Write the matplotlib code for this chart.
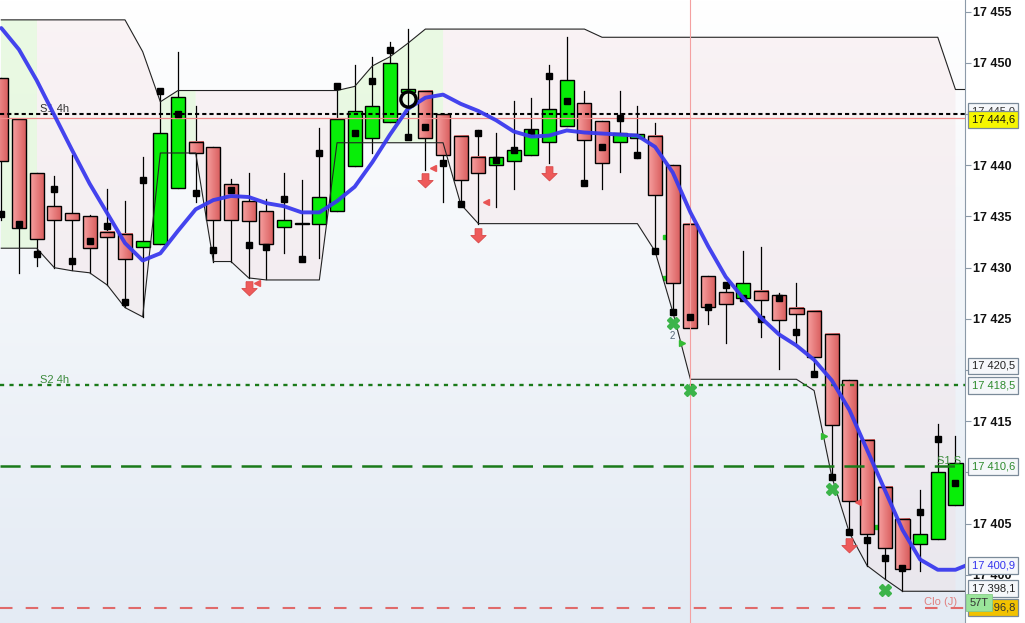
import numpy as np
import matplotlib
matplotlib.use('Agg')
import matplotlib.pyplot as plt
from matplotlib.colors import LinearSegmentedColormap
import matplotlib.ticker as tkr

plt.rcParams['font.family'] = ['Liberation Sans', 'DejaVu Sans']
plt.rcParams['lines.scale_dashes'] = False

# --- candles, oldest first ---
opens = [17448.5, 17444.5, 17439.2, 17436.0, 17435.3, 17435.0, 17433.5, 17433.3, 17432.0, 17432.3,
         17437.8, 17442.3, 17441.8, 17438.2, 17436.5, 17435.5, 17434.0, 17434.3, 17434.3, 17435.5,
         17439.9, 17442.7, 17444.2, 17447.2, 17447.3, 17445.0, 17442.9, 17440.8, 17440.0, 17440.4,
         17441.0, 17442.3, 17443.8, 17446.1, 17444.3, 17442.3, 17442.7, 17442.9, 17440.0, 17434.3,
         17429.2, 17427.6, 17427.0, 17427.7, 17427.3, 17426.1, 17425.8, 17423.5, 17419.0, 17413.2,
         17408.6, 17405.5, 17403.0, 17403.5, 17406.8]
highs = [17448.5, 17444.5, 17439.2, 17439.0, 17441.0, 17435.1, 17437.7, 17436.5, 17440.8, 17447.4,
         17451.1, 17445.8, 17441.8, 17438.7, 17439.2, 17436.7, 17439.2, 17438.6, 17443.6, 17447.7,
         17449.8, 17450.6, 17452.0, 17453.3, 17447.3, 17445.0, 17442.9, 17443.4, 17443.2, 17446.3,
         17446.6, 17449.8, 17452.5, 17447.3, 17444.3, 17447.3, 17445.8, 17444.1, 17440.0, 17434.3,
         17429.2, 17428.5, 17431.6, 17432.0, 17427.5, 17428.5, 17425.8, 17423.5, 17419.0, 17413.2,
         17408.6, 17405.5, 17408.3, 17414.7, 17413.6]
lows = [17434.7, 17429.5, 17430.2, 17430.0, 17429.8, 17429.5, 17428.3, 17426.2, 17425.2, 17432.3,
        17437.8, 17436.4, 17430.6, 17430.6, 17429.0, 17428.9, 17431.4, 17430.7, 17430.9, 17435.5,
        17439.9, 17441.2, 17444.2, 17442.8, 17439.5, 17436.4, 17436.2, 17434.3, 17435.9, 17437.7,
        17441.0, 17440.2, 17443.8, 17438.3, 17437.7, 17439.3, 17440.7, 17431.6, 17425.7, 17424.1,
        17424.5, 17422.6, 17427.0, 17423.2, 17420.1, 17422.6, 17419.6, 17409.6, 17404.2, 17400.9,
        17399.6, 17398.4, 17400.4, 17403.5, 17406.8]
closes = [17440.4, 17433.9, 17432.8, 17434.7, 17434.7, 17431.9, 17433.0, 17430.8, 17432.6, 17443.2,
          17446.7, 17441.2, 17434.7, 17434.7, 17434.6, 17432.3, 17434.7, 17434.3, 17436.9, 17444.5,
          17445.3, 17445.8, 17450.0, 17447.4, 17442.7, 17441.0, 17438.6, 17439.2, 17440.8, 17441.5,
          17443.5, 17445.5, 17448.3, 17442.5, 17440.2, 17443.2, 17443.1, 17437.1, 17428.5, 17424.1,
          17426.2, 17426.5, 17428.5, 17426.8, 17424.9, 17425.5, 17421.3, 17414.6, 17407.2, 17404.0,
          17402.6, 17400.6, 17404.0, 17410.0, 17410.9]
# black square markers (one per bar)
dots = [17435.2, 17434.3, 17431.3, 17437.7, 17430.7, 17432.6, 17434.1, 17426.6, 17438.6, 17447.3,
        17445.0, 17437.3, 17431.7, 17437.6, 17432.2, 17432.0, 17436.7, 17430.8, 17441.2, 17447.7,
        17443.2, 17448.2, 17451.3, 17442.8, 17443.7, 17440.2, 17436.2, 17443.2, 17440.5, 17441.5,
        17443.2, 17448.7, 17446.3, 17438.3, 17441.8, 17444.6, 17441.0, 17431.6, 17425.7, 17425.2,
        17426.2, 17428.3, 17427.0, 17425.0, 17427.0, 17423.7, 17419.6, 17409.6, 17404.2, 17403.4,
        17401.6, 17400.7, 17406.1, 17413.3, 17409.0]
# blue average (last value is one bar ahead)
ma = [17453.4, 17451.3, 17448.3, 17444.9, 17441.5, 17438.2, 17435.3, 17432.4, 17430.7, 17431.4,
      17433.6, 17435.7, 17436.6, 17437.0, 17436.9, 17436.3, 17436.0, 17435.4, 17435.4, 17436.5,
      17437.9, 17440.3, 17443.0, 17445.5, 17446.6, 17446.9, 17446.0, 17445.3, 17444.4, 17443.3,
      17442.8, 17442.9, 17443.4, 17443.2, 17443.1, 17443.0, 17442.9, 17441.8, 17439.3, 17435.4,
      17432.1, 17429.1, 17427.0, 17425.1, 17423.5, 17422.4, 17421.0, 17419.0, 17416.1, 17412.2,
      17408.3, 17404.4, 17401.5, 17400.5, 17400.5, 17401.2]
# channel envelope
upper = [17454.2, 17454.2, 17454.2, 17454.2, 17454.2, 17454.2, 17454.2, 17454.2, 17451.1, 17446.2,
         17447.3, 17447.3, 17447.3, 17447.3, 17447.3, 17447.3, 17447.3, 17447.3, 17447.3, 17447.3,
         17447.7, 17449.7, 17450.6, 17451.9, 17453.3, 17453.3, 17453.3, 17453.3, 17453.3, 17453.3,
         17453.3, 17453.3, 17453.3, 17453.3, 17452.5, 17452.5, 17452.5, 17452.5, 17452.5, 17452.5,
         17452.5, 17452.5, 17452.5, 17452.5, 17452.5, 17452.5, 17452.5, 17452.5, 17452.5, 17452.5,
         17452.5, 17452.5, 17452.5, 17452.5, 17447.4]
lower = [17431.9, 17431.9, 17431.9, 17430.0, 17429.7, 17429.5, 17428.3, 17426.1, 17425.2, 17441.2,
         17441.2, 17441.2, 17430.6, 17430.6, 17429.0, 17428.8, 17428.8, 17428.8, 17428.8, 17442.2,
         17442.2, 17442.2, 17442.2, 17442.2, 17442.2, 17442.2, 17436.2, 17434.3, 17434.3, 17434.3,
         17434.3, 17434.3, 17434.3, 17434.3, 17434.3, 17434.3, 17434.3, 17431.6, 17425.7, 17419.1,
         17419.1, 17419.1, 17419.1, 17419.1, 17419.1, 17419.1, 17418.0, 17409.6, 17404.1, 17400.9,
         17399.6, 17398.4, 17398.4, 17398.4, 17398.4]
green_spans = [(0, 2), (9, 11), (19, 25)]

# signals
arrow_x = [14, 24, 27, 31, 48]
arrow_y = [17428.0, 17438.6, 17433.2, 17439.2, 17402.9]
red_tri_x = [14.47, 24.43, 27.43, 48.48]
red_tri_y = [17428.5, 17439.7, 17436.4, 17407.1]
green_tri_x = [38.5, 46.56]
green_tri_y = [17422.6, 17413.6]
green_sq_x = [37.55, 37.55, 49.55]
green_sq_y = [17433.0, 17429.0, 17404.7]
cross_x = [38, 39, 47, 50]
cross_y = [17424.6, 17418.1, 17408.4, 17398.5]
ring_x, ring_y = 23, 17446.5
vline_x = 39

# levels
lvl_s1_4h = 17445.0
lvl_red = 17444.6
lvl_s2_4h = 17418.5
lvl_s1_s = 17410.6
lvl_clo = 17396.8

tick_values = [17400, 17405, 17410, 17415, 17420, 17425, 17430, 17435, 17440, 17445, 17450, 17455]
covered_ticks = [17410, 17420, 17445]
box_texts = ['17 445,0', '17 444,6', '17 420,5', '17 418,5', '17 410,6', '17 400,9', '17 398,1', '17 396,8']
box_levels = [17445.3, 17444.5, 17420.4, 17418.5, 17410.6, 17400.9, 17398.7, 17396.8]
box_fg = ['#333333', '#111111', '#222222', '#2e8b2e', '#2e8b2e', '#3333ee', '#222222', '#333333']
box_bg = ['#f5f7fa', '#f6f600', '#f5f7fa', '#f5f7fa', '#f5f7fa', '#f5f7fa', '#f5f7fa', '#f2c200']

x = np.arange(len(opens))
XLIM = (-0.074, 54.54)
YLIM = (17395.30, 17456.14)

fig = plt.figure(figsize=(10.25, 6.23), dpi=100)
ax = fig.add_axes([0, 0, 965 / 1025, 1])

# background gradient, white at the top
bg = LinearSegmentedColormap.from_list('bg', ['#ffffff', '#e4ebf4'])
ax.imshow(np.linspace(0, 1, 256).reshape(-1, 1), cmap=bg, aspect='auto', origin='upper',
          extent=[XLIM[0], XLIM[1], YLIM[0], YLIM[1]], zorder=0)

# channel fill
up = np.array(upper)
lo = np.array(lower)
is_green = np.zeros(len(x), bool)
for a, b in green_spans:
    is_green[a:b + 1] = True
is_pink = np.ones(len(x), bool)
for a, b in green_spans:
    is_pink[a + 1:b] = False
ax.fill_between(x, lo, up, where=is_pink, color='#f3dfe2', alpha=0.35, lw=0, zorder=1)
ax.fill_between(x, lo, up, where=is_green, color='#e3f8da', alpha=0.75, lw=0, zorder=1)

# candles
redmap = LinearSegmentedColormap.from_list('rd', ['#f7a0a0', '#d85c5c'])
hgrad = np.linspace(0, 1, 32).reshape(1, -1)
w = 0.8
for i in range(len(x)):
    ax.plot([x[i], x[i]], [lows[i], highs[i]], color='black', lw=0.9, zorder=2)
    o, c = opens[i], closes[i]
    bot, top = min(o, c), max(o, c)
    h = max(top - bot, 0.05)
    if c < o:
        ax.imshow(hgrad, cmap=redmap, aspect='auto', zorder=3,
                  extent=[x[i] - w / 2, x[i] + w / 2, bot, bot + h])
        ax.bar(x[i], h, w, bot, facecolor='none', edgecolor='black', lw=1.0, zorder=3.1)
    else:
        ax.bar(x[i], h, w, bot, facecolor='#08ee08', edgecolor='black', lw=1.0, zorder=3.1)

ax.plot(green_sq_x, green_sq_y, 's', color='#22cc22', ms=3.5, zorder=1.5)

# envelope lines
xe = np.append(x, x[-1] + 1)
ax.plot(xe, np.append(up, up[-1]), color='#222222', lw=0.8, zorder=4)
ax.plot(xe, np.append(lo, lo[-1]), color='#222222', lw=0.8, zorder=4)

# horizontal levels
ax.axhline(lvl_red, color='#f28a8a', lw=0.9, zorder=4)
ax.axhline(lvl_s1_4h, color='black', lw=1.5, dashes=(3.0, 2.2), zorder=4)
ax.axhline(lvl_s2_4h, color='#1a7a1a', lw=1.7, dashes=(3.0, 3.8), zorder=4)
ax.axhline(lvl_s1_s, color='#1a7a1a', lw=1.8, dashes=(14.5, 7.2), zorder=4)
ax.axhline(lvl_clo, color='#e06a6a', lw=1.5, dashes=(9.0, 9.5), zorder=4)
ax.axvline(vline_x, color='#f4a0a0', lw=0.8, zorder=4)

ax.text(2.2, lvl_s1_4h + 0.25, 'S1 4h', fontsize=8, color='#333333', zorder=5)
ax.text(2.2, lvl_s2_4h + 0.25, 'S2 4h', fontsize=8, color='#3a8a3a', zorder=5)
ax.text(52.95, lvl_s1_s + 0.25, 'S1 S', fontsize=8, color='#3a8a3a', zorder=5)
ax.text(52.2, lvl_clo + 0.3, 'Clo (J)', fontsize=8, color='#e08080', zorder=5)

# dots, average, signals
ax.plot(x, dots, 's', color='black', ms=4.3, zorder=5)
ax.plot(np.arange(len(ma)), ma, color='#3a3aee', lw=2.8, alpha=0.95,
        solid_capstyle='round', zorder=6)

arrow = [(-0.28, 0.55), (0.28, 0.55), (0.28, 0.0), (0.62, 0.0), (0.0, -0.6), (-0.62, 0.0), (-0.28, 0.0), (-0.28, 0.55)]
ax.plot(arrow_x, arrow_y, linestyle='none', marker=arrow, ms=11, mfc='#ee5a5a',
        mec='#d84848', mew=0.6, zorder=7)
ax.plot(red_tri_x, red_tri_y, '<', color='#e85555', ms=5, zorder=7)
ax.plot(green_tri_x, green_tri_y, '>', color='#33bb33', ms=5, zorder=7)
ax.plot(cross_x, cross_y, 'X', color='#3cb44a', ms=9, mec='#3cb44a', zorder=7)
ax.text(cross_x[0], cross_y[0] - 0.8, '2', fontsize=7, color='#556677', ha='center', va='top', zorder=7)
ax.plot(ring_x, ring_y, 'o', mfc='none', mec='black', mew=2.4, ms=11, zorder=7)

# axis
ax.set_xlim(*XLIM)
ax.set_ylim(*YLIM)
ax.set_xticks([])
ax.yaxis.tick_right()
ax.set_yticks(tick_values)
ax.yaxis.set_major_formatter(tkr.FuncFormatter(
    lambda v, p: '' if int(v) in covered_ticks else f"{int(v) // 1000} {int(v) % 1000:03d}"))
ax.tick_params(axis='y', direction='out', length=4, width=0.8, color='#8c9aa8',
               pad=2, labelsize=8, labelcolor='#111111')
for t in ax.yaxis.get_major_ticks():
    if int(round(t.get_loc())) % 50 == 0:
        t.label2.set_fontweight('bold')
        t.label2.set_fontsize(9)
for s in ['left', 'top', 'bottom']:
    ax.spines[s].set_visible(False)
ax.spines['right'].set_color('#8c9aa8')

tr = ax.get_yaxis_transform()
for txt, lv, fg, bgc in zip(box_texts, box_levels, box_fg, box_bg):
    ax.text(1.007, lv, txt, transform=tr, fontsize=8, color=fg, va='center', ha='left',
            clip_on=False, zorder=10,
            bbox=dict(boxstyle='square,pad=0.3', fc=bgc, ec='#7a8a99', lw=0.9))
ax.text(1.005, 17397.3, '57T', transform=tr, fontsize=8, color='#333333', va='center', ha='left',
        clip_on=False, zorder=11,
        bbox=dict(boxstyle='square,pad=0.3', fc='#9ae49a', ec='#88cc88', lw=0.6))

fig.savefig('out.png', dpi=100, facecolor='white')
